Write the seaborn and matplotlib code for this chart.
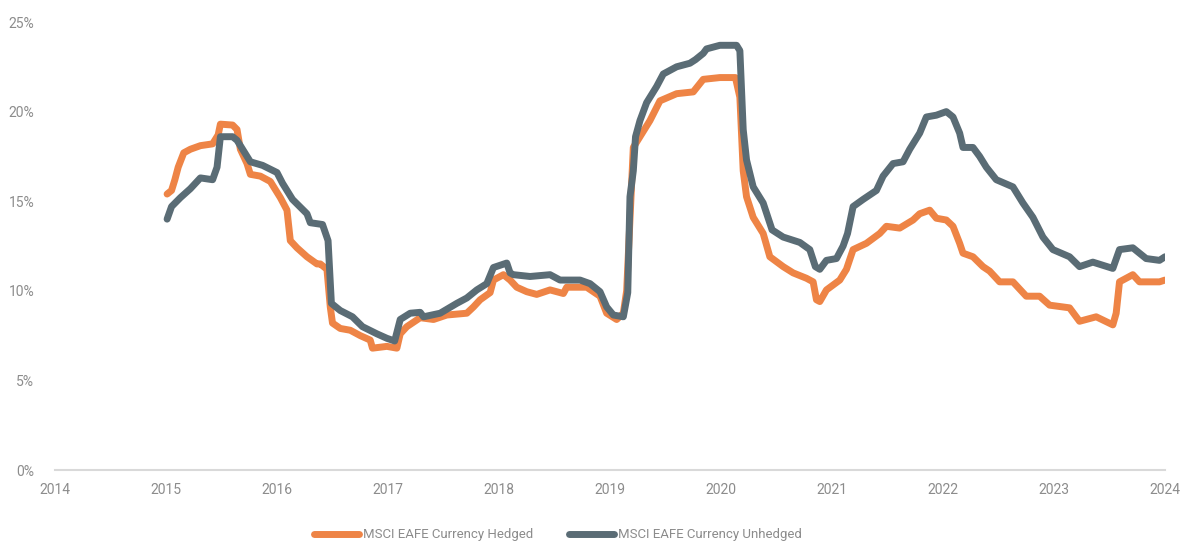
import pandas as pd
import seaborn as sns
import matplotlib.pyplot as plt
from matplotlib.ticker import PercentFormatter

# Valores (anos decimais, volatilidade em %)
hedged_year = [2015.01, 2015.05, 2015.08, 2015.11, 2015.16, 2015.22, 2015.31, 2015.42, 2015.47, 2015.49,
               2015.60, 2015.64, 2015.67, 2015.73, 2015.76, 2015.85, 2015.94, 2016.03, 2016.09, 2016.12,
               2016.18, 2016.27, 2016.36, 2016.39, 2016.45, 2016.48, 2016.50, 2016.57, 2016.66, 2016.75,
               2016.84, 2016.86, 2016.99, 2017.08, 2017.11, 2017.17, 2017.29, 2017.41, 2017.53, 2017.71,
               2017.77, 2017.83, 2017.92, 2017.95, 2018.04, 2018.10, 2018.16, 2018.25, 2018.34, 2018.46,
               2018.58, 2018.61, 2018.79, 2018.91, 2018.97, 2019.06, 2019.12, 2019.15, 2019.21, 2019.27,
               2019.36, 2019.45, 2019.60, 2019.75, 2019.84, 2019.99, 2020.13, 2020.17, 2020.20, 2020.23,
               2020.29, 2020.38, 2020.44, 2020.56, 2020.65, 2020.77, 2020.83, 2020.86, 2020.89, 2020.95,
               2021.07, 2021.13, 2021.19, 2021.31, 2021.43, 2021.49, 2021.61, 2021.73, 2021.79, 2021.88,
               2021.94, 2022.03, 2022.09, 2022.15, 2022.18, 2022.27, 2022.36, 2022.42, 2022.51, 2022.63,
               2022.75, 2022.87, 2022.96, 2023.14, 2023.23, 2023.38, 2023.53, 2023.56, 2023.59, 2023.71,
               2023.77, 2023.95, 2024.00]
hedged_vol = [15.4, 15.6, 16.2, 16.9, 17.7, 17.9, 18.1, 18.2, 18.7, 19.3,
              19.25, 19.0, 17.9, 17.1, 16.5, 16.4, 16.1, 15.2, 14.5, 12.8,
              12.4, 11.9, 11.5, 11.5, 11.2, 9.1, 8.2, 7.9, 7.8, 7.5,
              7.25, 6.8, 6.9, 6.8, 7.6, 8.0, 8.5, 8.4, 8.65, 8.75,
              9.1, 9.5, 9.9, 10.6, 10.9, 10.6, 10.2, 9.95, 9.8, 10.05,
              9.85, 10.2, 10.2, 9.7, 8.75, 8.4, 8.75, 10.0, 18.0, 18.6,
              19.5, 20.6, 21.0, 21.1, 21.8, 21.9, 21.9, 20.8, 16.7, 15.25,
              14.1, 13.2, 11.9, 11.35, 11.0, 10.7, 10.5, 9.5, 9.4, 10.05,
              10.6, 11.2, 12.3, 12.65, 13.2, 13.6, 13.5, 13.95, 14.3, 14.5,
              14.05, 13.95, 13.6, 12.65, 12.1, 11.9, 11.35, 11.1, 10.5, 10.5,
              9.7, 9.7, 9.2, 9.05, 8.3, 8.55, 8.1, 8.75, 10.5, 10.9,
              10.5, 10.5, 10.6]

unhedged_year = [2015.01, 2015.05, 2015.13, 2015.22, 2015.31, 2015.42, 2015.46, 2015.49, 2015.60, 2015.64,
                 2015.76, 2015.87, 2016.00, 2016.05, 2016.14, 2016.27, 2016.30, 2016.41, 2016.46, 2016.49,
                 2016.57, 2016.68, 2016.77, 2016.90, 2016.99, 2017.06, 2017.11, 2017.20, 2017.29, 2017.32,
                 2017.47, 2017.62, 2017.71, 2017.80, 2017.89, 2017.95, 2018.07, 2018.10, 2018.13, 2018.28,
                 2018.46, 2018.55, 2018.73, 2018.82, 2018.91, 2018.97, 2019.03, 2019.12, 2019.16, 2019.18,
                 2019.21, 2019.23, 2019.27, 2019.33, 2019.42, 2019.48, 2019.60, 2019.72, 2019.77, 2019.84,
                 2019.87, 2019.99, 2020.14, 2020.17, 2020.20, 2020.23, 2020.29, 2020.38, 2020.46, 2020.56,
                 2020.71, 2020.80, 2020.85, 2020.89, 2020.95, 2021.04, 2021.10, 2021.14, 2021.19, 2021.28,
                 2021.40, 2021.46, 2021.55, 2021.64, 2021.70, 2021.79, 2021.85, 2021.94, 2022.03, 2022.09,
                 2022.15, 2022.18, 2022.27, 2022.33, 2022.39, 2022.48, 2022.63, 2022.72, 2022.81, 2022.90,
                 2022.99, 2023.14, 2023.23, 2023.35, 2023.53, 2023.59, 2023.71, 2023.83, 2023.95, 2024.00]
unhedged_vol = [14.0, 14.7, 15.2, 15.7, 16.3, 16.2, 16.9, 18.6, 18.6, 18.4,
                17.2, 17.0, 16.6, 16.0, 15.1, 14.3, 13.8, 13.7, 12.8, 9.3,
                8.9, 8.55, 8.0, 7.6, 7.35, 7.2, 8.4, 8.75, 8.8, 8.55,
                8.75, 9.3, 9.6, 10.05, 10.4, 11.3, 11.55, 11.0, 10.9, 10.8,
                10.9, 10.6, 10.6, 10.4, 9.95, 9.1, 8.65, 8.55, 9.9, 15.25,
                16.7, 18.6, 19.5, 20.5, 21.4, 22.1, 22.5, 22.7, 22.9, 23.25,
                23.5, 23.7, 23.7, 23.4, 19.0, 17.3, 15.8, 14.9, 13.4, 13.0,
                12.7, 12.3, 11.35, 11.2, 11.7, 11.8, 12.5, 13.2, 14.7, 15.1,
                15.6, 16.4, 17.1, 17.2, 17.9, 18.8, 19.7, 19.8, 20.0, 19.7,
                18.8, 18.0, 18.0, 17.5, 16.9, 16.2, 15.8, 14.9, 14.1, 13.0,
                12.3, 11.9, 11.35, 11.6, 11.25, 12.3, 12.4, 11.8, 11.7, 11.9]

series_names = ['MSCI EAFE Currency Hedged', 'MSCI EAFE Currency Unhedged']
year_ticks = list(range(2014, 2025))
pct_ticks = [0, 5, 10, 15, 20, 25]

dados = pd.concat([
    pd.DataFrame({'ano': hedged_year, 'vol': hedged_vol, 'serie': series_names[0]}),
    pd.DataFrame({'ano': unhedged_year, 'vol': unhedged_vol, 'serie': series_names[1]}),
])

sns.set_style('white')
plt.rcParams['font.family'] = ['Roboto', 'DejaVu Sans']
texto = '#8c8c8c'
cores = {series_names[0]: '#ee8446', series_names[1]: '#5a6c75'}

fig = plt.figure(figsize=(11.8, 5.42), dpi=100)
ax = fig.add_axes([0.0466, 0.1328, 0.9407, 0.8266])

sns.lineplot(data=dados, x='ano', y='vol', hue='serie', palette=cores, estimator=None,
             linewidth=5, solid_capstyle='round', solid_joinstyle='round', ax=ax, legend=False)

ax.set_xlim(2014, 2024)
ax.set_ylim(0, 25)
ax.set_xticks(year_ticks)
ax.set_xticklabels([str(a) for a in year_ticks])
ax.set_yticks(pct_ticks)
ax.yaxis.set_major_formatter(PercentFormatter(xmax=100, decimals=0))
ax.set_xlabel('')
ax.set_ylabel('')
for lado in ['top', 'right', 'left']:
    ax.spines[lado].set_visible(False)
ax.spines['bottom'].set_color('#d9d9d9')
ax.spines['bottom'].set_linewidth(1.5)
ax.tick_params(axis='both', length=0, labelsize=10, colors=texto)
ax.tick_params(axis='x', pad=9)
ax.tick_params(axis='y', pad=15)

handles = [plt.Line2D([], [], color=cores[n], linewidth=5, solid_capstyle='round') for n in series_names]
fig.legend(handles, series_names, loc='center', bbox_to_anchor=(0.473, 0.013), ncol=2, frameon=False,
           fontsize=9.5, labelcolor=texto, handlelength=3.4, handletextpad=0.3, columnspacing=2.7)

fig.savefig('out.png', dpi=100)
